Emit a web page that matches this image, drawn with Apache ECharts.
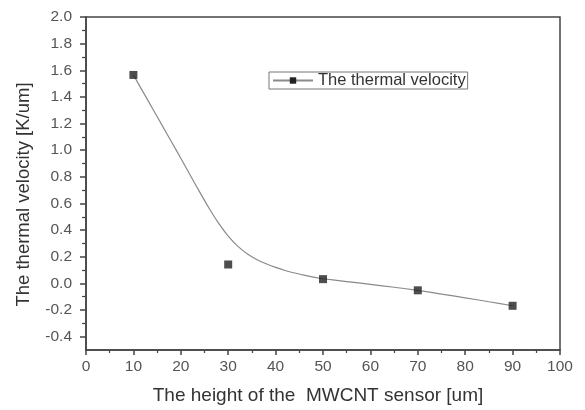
<!DOCTYPE html>
<html><head><meta charset="utf-8">
<script src="https://cdn.jsdelivr.net/npm/echarts@6/dist/echarts.min.js"></script>
<style>html,body{margin:0;padding:0;background:#fff}#c{width:585px;height:410px}</style>
</head><body><div id="c"></div>
<script>
const seriesName = 'The thermal velocity';
const heights = [10, 30, 50, 70, 90];
const velocities = [1.565, 0.142, 0.032, -0.052, -0.168];
const curveX = [10, 12, 14, 16, 18, 20, 22, 24, 26, 28, 30, 32, 34, 36, 38, 40, 42, 44, 46, 48, 50, 55, 60, 65, 70, 75, 80, 85, 90];
const curveY = [1.565, 1.44, 1.315, 1.19, 1.065, 0.94, 0.812, 0.685, 0.562, 0.45, 0.355, 0.28, 0.223, 0.18, 0.147, 0.12, 0.097, 0.078, 0.062, 0.047, 0.035, 0.014, -0.007, -0.029, -0.052, -0.08, -0.108, -0.138, -0.168];
const xTitle = 'The height of the  MWCNT sensor [um]';
const yTitle = 'The thermal velocity [K/um]';

const font = 'Liberation Sans, Arial, sans-serif';
const axisCol = '#444';
const chart = echarts.init(document.getElementById('c'));
chart.setOption({
  animation: false,
  backgroundColor: '#fff',
  grid: [
    {left: 86, right: 25, top: 17, bottom: 59, show: true, borderColor: axisCol, borderWidth: 1.5, backgroundColor: '#fff'},
    {left: 86, right: 25, top: 17, bottom: 73.3}
  ],
  legend: {
    data: [seriesName], left: 269, top: 72, orient: 'horizontal',
    borderColor: '#777', borderWidth: 1, padding: [0, 2, 0, 3],
    itemWidth: 40, itemHeight: 8, itemGap: 4,
    textStyle: {fontFamily: font, fontSize: 16.5, color: '#333'}
  },
  xAxis: [
    {gridIndex: 0, type: 'value', min: 0, max: 100, interval: 10,
     name: xTitle, nameLocation: 'middle', nameGap: 36,
     nameTextStyle: {fontFamily: font, fontSize: 19, color: '#333', padding: [0, 10, 0, 0]},
     axisLine: {show: true, onZero: false, lineStyle: {color: axisCol, width: 1.5}},
     axisTick: {show: true, length: 5, lineStyle: {color: axisCol, width: 1.5}},
     minorTick: {show: true, splitNumber: 2, length: 3, lineStyle: {color: axisCol, width: 1.2}},
     axisLabel: {fontFamily: font, fontSize: 15.5, color: '#555', margin: 9},
     splitLine: {show: false}},
    {gridIndex: 1, type: 'value', min: 0, max: 100, show: false}
  ],
  yAxis: [
    {gridIndex: 0, type: 'value', min: -0.5, max: 2.0,
     name: yTitle, nameLocation: 'middle', nameGap: 53, nameRotate: 90,
     nameTextStyle: {fontFamily: font, fontSize: 18.5, color: '#333', padding: [0, 22, 0, 0]},
     axisLine: {show: true, onZero: false, lineStyle: {color: axisCol, width: 1.5}},
     axisTick: {show: false}, axisLabel: {show: false}, splitLine: {show: false}},
    {gridIndex: 1, type: 'value', min: -0.4, max: 2.0, interval: 0.2,
     axisLine: {show: false},
     axisTick: {show: true, length: 6, lineStyle: {color: axisCol, width: 1.5}},
     minorTick: {show: true, splitNumber: 2, length: 4, lineStyle: {color: axisCol, width: 1.2}},
     axisLabel: {fontFamily: font, fontSize: 15.5, color: '#555', margin: 14,
       formatter: v => v.toFixed(1)},
     splitLine: {show: false}}
  ],
  series: [
    {name: seriesName, type: 'line', xAxisIndex: 0, yAxisIndex: 0,
     data: curveX.map((x, i) => [x, curveY[i]]), smooth: 0.2,
     symbol: 'rect', symbolSize: 7, showSymbol: false,
     itemStyle: {color: '#222'},
     lineStyle: {color: '#8a8a8a', width: 1.2}, z: 2},
    {name: 'points', type: 'scatter', xAxisIndex: 0, yAxisIndex: 0,
     data: heights.map((x, i) => [x, velocities[i]]),
     symbol: 'rect', symbolSize: 8, itemStyle: {color: '#222'}, z: 3}
  ]
});
</script></body></html>
